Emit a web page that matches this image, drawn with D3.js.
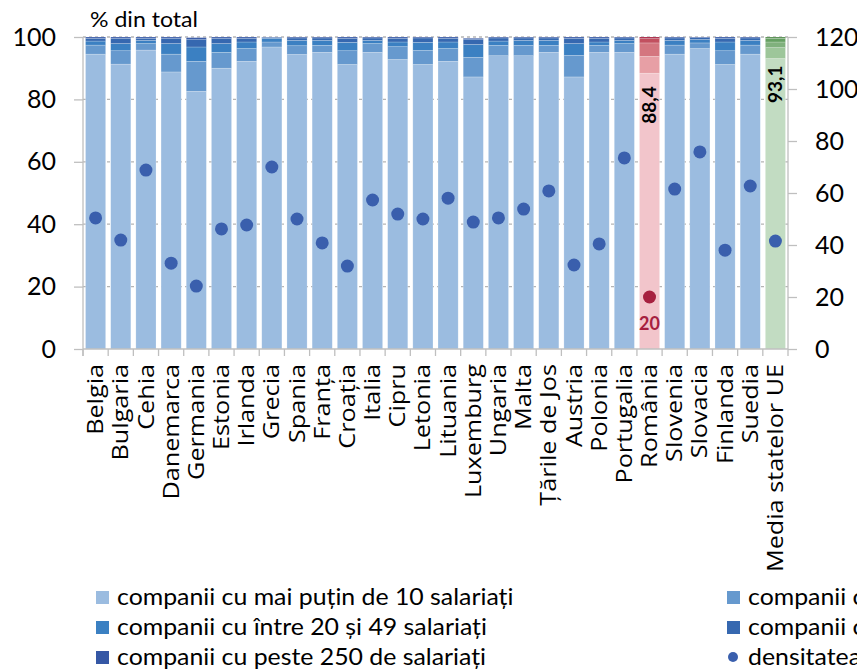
<!DOCTYPE html>
<html><head><meta charset="utf-8">
<script src="https://cdn.jsdelivr.net/npm/d3@7"></script>
<style>
html,body{margin:0;padding:0;background:#fff;overflow:hidden;}
svg{display:block;font-family:Lato,"Open Sans",sans-serif;}
</style></head>
<body>
<svg id="c" width="857" height="670"></svg>
<script>
const categories = ["Belgia","Bulgaria","Cehia","Danemarca","Germania","Estonia","Irlanda","Grecia","Spania","Franța","Croația","Italia","Cipru","Letonia","Lituania","Luxemburg","Ungaria","Malta","Țările de Jos","Austria","Polonia","Portugalia","România","Slovenia","Slovacia","Finlanda","Suedia","Media statelor UE"];
const micro   = [94.5,91.3,95.8,88.8,82.6,90.0,92.2,96.8,94.4,95.1,91.2,95.1,92.8,91.2,92.2,87.2,94.0,94.0,95.1,87.2,95.1,95.1,88.4,94.5,96.3,91.2,94.5,93.1];
const small10 = [2.9,4.3,2.1,5.7,9.6,5.1,4.1,1.6,2.8,2.2,4.4,2.8,4.1,4.5,4.1,6.3,3.3,3.3,2.2,6.9,2.2,2.8,5.4,2.9,1.8,4.4,2.9,3.5];
const small20 = [1.3,2.3,1.0,3.4,4.6,2.8,2.1,1.2,1.7,1.6,2.7,1.0,1.5,2.6,2.1,4.1,1.4,1.6,1.6,3.8,1.1,1.0,4.3,1.5,1.1,2.8,1.5,1.8];
const medium  = [0.9,1.7,0.7,1.7,2.5,1.7,1.2,0.3,0.8,0.8,1.3,0.8,1.2,1.4,1.2,1.7,1.0,0.8,0.8,1.7,1.2,0.8,1.4,0.8,0.6,1.2,0.8,1.2];
const large   = [0.4,0.4,0.4,0.4,0.5,0.4,0.4,0.1,0.3,0.3,0.4,0.3,0.4,0.3,0.4,0.3,0.3,0.3,0.3,0.4,0.4,0.3,0.5,0.3,0.2,0.4,0.3,0.4];
const density = [50.4,41.9,68.8,33.0,24.2,46.2,47.7,70.0,50.0,40.8,31.9,57.3,51.9,50.0,58.0,48.8,50.4,53.8,60.8,32.3,40.4,73.5,20,61.5,75.8,38.0,62.7,41.5];
const seriesNames = ["companii cu mai puțin de 10 salariați","companii cu între 10 și 19 salariați","companii cu între 20 și 49 salariați","companii cu între 50 și 249 salariați","companii cu peste 250 de salariați"];
const densityName = "densitatea companiilor (nr. la 1.000 de locuitori)";
const leftTicks = [0,20,40,60,80,100];
const rightTicks = [0,20,40,60,80,100,120];

const blues  = ["#9BBCE0","#6699CE","#3B80C2","#3668B0","#3557A5"];
const reds   = ["#F2C5CB","#E79FA5","#D4767F","#C2505F","#A6203F"];
const greens = ["#C2DCC2","#9DC69A","#80B17D","#65A062","#4A8745"];
const dotBlue = "#3A5FAD", dotRed = "#A6203F";
const axisCol = "#BFBFBF";

const svg = d3.select("#c");
const L = 83, R = 788, T = 37, B = 349;
const x = d3.scaleBand().domain(categories).range([L,R]).paddingInner(0.2).paddingOuter(0.1);
const y = d3.scaleLinear().domain([0,100]).range([B,T]);
const y2 = d3.scaleLinear().domain([0,120]).range([B,T]);

// stretch helper: widen text along its baseline by a constant factor
function stretch(sel, f){
  sel.each(function(){
    const w = this.getComputedTextLength();
    d3.select(this).attr("textLength", w*f).attr("lengthAdjust","spacingAndGlyphs");
  });
}

// gridlines
svg.append("g").selectAll("line").data(leftTicks.filter(d=>d>0)).join("line")
  .attr("x1",L).attr("x2",R).attr("y1",d=>y(d)).attr("y2",d=>y(d))
  .attr("stroke","#B5B5B5").attr("stroke-width",1.3).attr("stroke-dasharray","3,3");

// stacked bars
const rows = categories.map((c,i)=>({cat:c,vals:[micro[i],small10[i],small20[i],medium[i],large[i]]}));
const bars = svg.append("g");
rows.forEach((r,i)=>{
  const pal = r.cat==="România" ? reds : (r.cat==="Media statelor UE" ? greens : blues);
  let acc = 0;
  r.vals.forEach((v,k)=>{
    bars.append("rect")
      .attr("x",x(r.cat)).attr("width",x.bandwidth())
      .attr("y",y(acc+v)).attr("height",y(acc)-y(acc+v))
      .attr("fill",pal[k]).attr("stroke","rgba(255,255,255,0.35)").attr("stroke-width",0.6);
    acc += v;
  });
});

// axes
const gl = svg.append("g").attr("transform",`translate(${L},0)`)
  .call(d3.axisLeft(y).tickValues(leftTicks).tickSize(9).tickPadding(18));
const gr = svg.append("g").attr("transform",`translate(${R},0)`)
  .call(d3.axisRight(y2).tickValues(rightTicks).tickSize(9).tickPadding(18));
[gl,gr].forEach(g=>{
  g.select(".domain").remove();
  g.selectAll(".tick line").attr("stroke",axisCol).attr("stroke-width",1.3);
  g.selectAll("text").attr("font-size",25).attr("fill","#000").attr("font-family","Lato,sans-serif");
});
svg.append("line").attr("x1",L).attr("x2",L).attr("y1",T).attr("y2",B+7).attr("stroke",axisCol).attr("stroke-width",1.3);
svg.append("line").attr("x1",R).attr("x2",R).attr("y1",T).attr("y2",B+7).attr("stroke",axisCol).attr("stroke-width",1.3);

// x axis
svg.append("line").attr("x1",L).attr("x2",R).attr("y1",B).attr("y2",B).attr("stroke",axisCol).attr("stroke-width",1.3);
const step = x.step();
svg.append("g").selectAll("line").data(categories).join("line")
  .attr("x1",d=>x(d)-step*0.1).attr("x2",d=>x(d)-step*0.1).attr("y1",B).attr("y2",B+7)
  .attr("stroke",axisCol).attr("stroke-width",1.3);
svg.append("g").selectAll("text").data(categories).join("text")
  .attr("transform",d=>`translate(${x(d)+x.bandwidth()/2},${B+15}) rotate(-90)`)
  .attr("text-anchor","end").attr("dy","0.36em")
  .attr("font-family","'Open Sans',sans-serif")
  .attr("font-size",21).attr("fill","#000").text(d=>d)
  .call(stretch, 1.2);

// dots
svg.append("g").selectAll("circle").data(categories).join("circle")
  .attr("cx",d=>x(d)+x.bandwidth()/2).attr("cy",(d,i)=>y2(density[i])).attr("r",6.5)
  .attr("fill",d=>d==="România"?dotRed:dotBlue);

// labels
const ri = categories.indexOf("România"), ei = categories.indexOf("Media statelor UE");
const fmt = v => String(v).replace(".",",");
[[ri,13],[ei,7]].forEach(([i,off])=>{
  const c = categories[i];
  svg.append("text")
    .attr("transform",`translate(${x(c)+x.bandwidth()/2},${y(micro[i])+off}) rotate(-90)`)
    .attr("text-anchor","end").attr("dy","0.36em")
    .attr("font-size",19).attr("font-weight","bold").attr("fill","#000").text(fmt(micro[i]));
});
svg.append("text")
  .attr("x",x(categories[ri])+x.bandwidth()/2).attr("y",y2(density[ri])+27).attr("dy","0.36em")
  .attr("text-anchor","middle").attr("font-size",18).attr("font-weight","bold").attr("fill",dotRed)
  .text(fmt(density[ri]));

// axis title
svg.append("text").attr("x",90).attr("y",27).attr("font-size",22).attr("fill","#000").text("% din total")
  .call(stretch, 1.05);

// legend
const legItems = [
  {t:seriesNames[0],c:blues[0],x:96,y:597},
  {t:seriesNames[2],c:blues[2],x:96,y:627},
  {t:seriesNames[4],c:blues[4],x:96,y:657},
  {t:seriesNames[1],c:blues[1],x:727,y:597},
  {t:seriesNames[3],c:blues[3],x:727,y:627}
];
const lg = svg.append("g");
legItems.forEach(it=>{
  lg.append("rect").attr("x",it.x).attr("y",it.y-6).attr("width",13).attr("height",13).attr("fill",it.c);
  lg.append("text").attr("x",it.x+21).attr("y",it.y).attr("dy","0.36em").attr("font-size",23).attr("fill","#000").text(it.t)
    .call(stretch, 1.08);
});
lg.append("circle").attr("cx",733).attr("cy",657).attr("r",5).attr("fill",dotBlue);
lg.append("text").attr("x",748).attr("y",657).attr("dy","0.36em").attr("font-size",23).attr("fill","#000").text(densityName)
  .call(stretch, 1.08);
</script>
</body></html>
